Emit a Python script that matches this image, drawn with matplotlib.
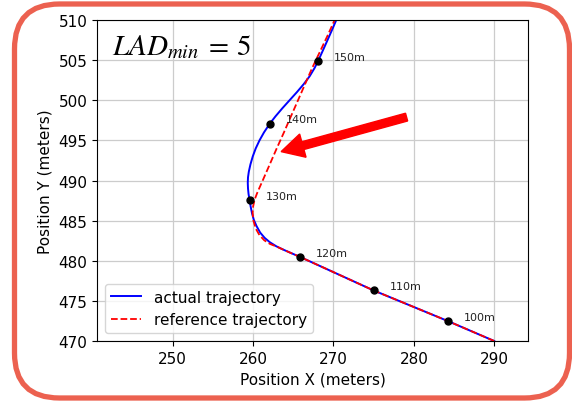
import numpy as np
import matplotlib.pyplot as plt
from matplotlib.patches import FancyBboxPatch

# actual trajectory
actual_x = [290.0, 284.2, 275.0, 265.8, 264.8, 263.8, 262.9, 262.1, 261.45, 260.9, 260.45, 260.1,
            259.88, 259.7, 259.57, 259.45, 259.38, 259.35, 259.38, 259.48, 259.68, 259.97, 260.34,
            260.81, 261.37, 262.1, 262.8, 263.65, 264.55, 265.45, 266.3, 267.05, 267.65, 268.1,
            268.6, 269.27, 269.93, 270.4, 271.0]
actual_y = [470.0, 472.5, 476.3, 480.5, 480.93, 481.37, 481.8, 482.3, 482.85, 483.5, 484.3, 485.1,
            485.9, 486.8, 487.6, 488.3, 489.0, 489.7, 490.4, 491.1, 492.0, 493.0, 494.0,
            495.0, 496.0, 497.1, 498.0, 499.0, 500.0, 501.0, 502.0, 503.0, 504.0, 504.9,
            506.0, 507.5, 509.0, 510.1, 511.5]

# reference trajectory
ref_x = [290.0, 284.2, 275.0, 265.8, 264.8, 263.8, 262.9, 262.1, 261.4, 260.8, 260.35, 260.05,
         259.95, 260.02, 260.2, 260.5, 260.85, 261.25, 262.08, 262.95, 263.85, 264.72, 265.6,
         266.47, 267.35, 268.3, 269.25, 270.2, 270.85]
ref_y = [470.0, 472.5, 476.3, 480.5, 480.93, 481.37, 481.78, 482.1, 482.55, 483.2, 484.0, 485.0,
         486.0, 486.8, 487.6, 488.4, 489.2, 490.1, 492.0, 494.0, 496.0, 498.0, 500.0,
         502.0, 504.0, 506.0, 508.0, 510.1, 511.5]

# distance markers on the actual path
mark_x = [284.2, 275.0, 265.8, 259.6, 262.1, 268.1]
mark_y = [472.5, 476.3, 480.5, 487.6, 497.1, 504.9]
mark_labels = ['100m', '110m', '120m', '130m', '140m', '150m']

# red arrow (tail -> tip)
arrow_tail = (279.1, 497.9)
arrow_tip = (263.5, 493.6)

fig = plt.figure(figsize=(5.72, 4.02), dpi=100)

# rounded frame around the figure
bg = fig.add_axes([0, 0, 1, 1], zorder=-1)
bg.set_xlim(0, 572)
bg.set_ylim(0, 402)
bg.axis('off')
bg.add_patch(FancyBboxPatch((14.5, 3), 555, 394, boxstyle='round,pad=0,rounding_size=45',
                            fill=False, ec='#ec6150', lw=3.8))

ax = fig.add_axes([97/572, 60/402, 431/572, 321/402])
ax.plot(actual_x, actual_y, color='blue', lw=1.4, label='actual trajectory')
ax.plot(ref_x, ref_y, color='red', ls='--', lw=1.3, label='reference trajectory')
ax.plot(mark_x, mark_y, 'ko', ms=5)
for x, y, t in zip(mark_x, mark_y, mark_labels):
    ax.annotate(t, (x, y), xytext=(11.5, 3), textcoords='offset points',
                fontsize=8, va='center', ha='left', color='#222222')

ax.arrow(arrow_tail[0], arrow_tail[1], arrow_tip[0] - arrow_tail[0], arrow_tip[1] - arrow_tail[1],
         width=1.0, head_width=3.0, head_length=2.8, length_includes_head=True,
         fc='red', ec='red', zorder=5)

ax.text(0.034, 0.894, r'$LAD_{min}\:=\:5$', transform=ax.transAxes, fontsize=21,
        va='baseline', ha='left', math_fontfamily='stix')

ax.set_xlim(240.6, 294.2)
ax.set_ylim(470, 510)
ax.set_xticks([250, 260, 270, 280, 290])
ax.set_yticks(np.arange(470, 511, 5))
ax.tick_params(labelsize=11)
ax.grid(True, color='#cccccc', lw=0.9)
ax.set_xlabel('Position X (meters)', fontsize=11)
ax.set_ylabel('Position Y (meters)', fontsize=11)
ax.legend(loc='lower left', fontsize=11)

fig.savefig('out.png', dpi=100)
